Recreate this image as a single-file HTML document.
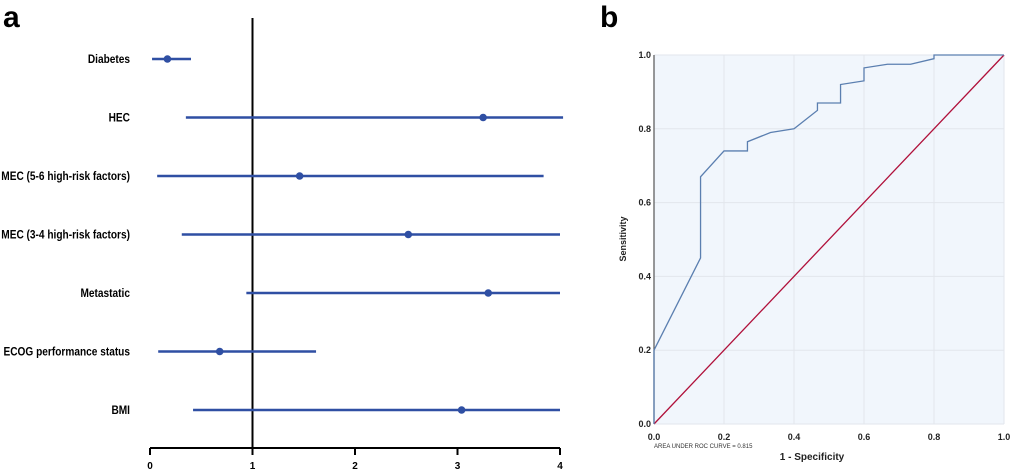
<!DOCTYPE html>
<html><head><meta charset="utf-8"><style>
body{margin:0;background:#fff;font-family:"Liberation Sans",sans-serif}
svg{display:block}
</style></head><body>
<svg id="c" width="1017" height="473">
<text x="3" y="27" font-size="30" font-weight="bold">a</text>
<text x="600" y="27" font-size="30" font-weight="bold">b</text>
<g id="fa"></g>
<g id="roc"></g>
</svg>
<script>
const labels=["Diabetes","HEC","MEC (5-6 high-risk factors)","MEC (3-4 high-risk factors)","Metastatic","ECOG performance status","BMI"];
const est=[0.17,3.25,1.46,2.52,3.30,0.68,3.04];
const lo=[0.02,0.35,0.07,0.31,0.94,0.08,0.42];
const hi=[0.40,4.03,3.84,4.00,4.00,1.62,4.00];
const xTicks=[0,1,2,3,4];
const rocX=[0,0,0.133,0.133,0.2,0.267,0.267,0.333,0.4,0.467,0.467,0.533,0.533,0.6,0.6,0.667,0.733,0.8,0.8,1];
const rocY=[0,0.2,0.45,0.67,0.74,0.74,0.765,0.79,0.8,0.85,0.87,0.87,0.92,0.93,0.965,0.975,0.975,0.99,1,1];
const rocTicks=[0,0.2,0.4,0.6,0.8,1.0];
const NS="http://www.w3.org/2000/svg";
function mk(p,t,a,txt){const e=document.createElementNS(NS,t);for(const k in a)e.setAttribute(k,a[k]);if(txt!==undefined)e.textContent=txt;p.appendChild(e);return e;}
// forest
const fa=document.getElementById('fa');
const fx=v=>150+v*102.5, fy=i=>59+i*58.5;
let e=mk(fa,'line',{x1:fx(1),x2:fx(1),y1:18,y2:448,stroke:'#000','stroke-width':2});

e=mk(fa,'line',{x1:fx(0),x2:fx(4),y1:448,y2:448,stroke:'#000','stroke-width':2});

xTicks.forEach(t=>{
 e=mk(fa,'line',{x1:fx(t),x2:fx(t),y1:448,y2:455,stroke:'#000','stroke-width':2});
 
 e=mk(fa,'text',{x:fx(t),y:469,'text-anchor':'middle','font-size':10,'font-weight':'bold'},t);
 
});
const lg=mk(fa,'g',{transform:'scale(0.88,1)'});

labels.forEach((l,i)=>{
 e=mk(lg,'text',{x:130/0.88,y:fy(i)+4,'text-anchor':'end','font-size':11.5,'font-weight':'bold'},l);
 
});
labels.forEach((l,i)=>{
 e=mk(fa,'line',{x1:fx(lo[i]),x2:fx(hi[i]),y1:fy(i),y2:fy(i),stroke:'#2f4fa3','stroke-width':2.5});
 
 e=mk(fa,'circle',{cx:fx(est[i]),cy:fy(i),r:3.8,fill:'#2f4fa3'});
 
});
// roc
const rg=document.getElementById('roc');
const rx=v=>654+v*350, ry=v=>424-v*369;
e=mk(rg,'rect',{x:rx(0),y:ry(1),width:350,height:369,fill:'#f1f6fc'});

rocTicks.forEach(t=>{
 e=mk(rg,'line',{x1:rx(t),x2:rx(t),y1:ry(0),y2:ry(1),stroke:'#e2e6ec','stroke-width':1});
 
 e=mk(rg,'line',{x1:rx(0),x2:rx(1),y1:ry(t),y2:ry(t),stroke:'#e2e6ec','stroke-width':1});
 
 e=mk(rg,'text',{x:rx(t),y:440,'text-anchor':'middle','font-size':9,'font-weight':'bold',fill:'#222'},t.toFixed(1));
 
 e=mk(rg,'text',{x:rx(0)-3,y:ry(t)+3,'text-anchor':'end','font-size':9,'font-weight':'bold',fill:'#222'},t.toFixed(1));
 
});
e=mk(rg,'line',{x1:rx(0),x2:rx(0),y1:ry(0),y2:ry(1),stroke:'#555','stroke-width':1.2});

e=mk(rg,'line',{x1:rx(0),y1:ry(0),x2:rx(1),y2:ry(1),stroke:'#b0103a','stroke-width':1.3});

e=mk(rg,'polyline',{points:rocX.map((v,i)=>rx(v)+','+ry(rocY[i])).join(' '),fill:'none',stroke:'#5b7fb0','stroke-width':1.3});

e=mk(rg,'text',{x:rx(0),y:448,'font-size':6,fill:'#333'},'AREA UNDER ROC CURVE = 0.815');

e=mk(rg,'text',{x:rx(0.5)-17,y:460,'text-anchor':'middle','font-size':10,'font-weight':'bold',fill:'#222'},'1 - Specificity');

e=mk(rg,'text',{x:626,y:239,'text-anchor':'middle','font-size':9,'font-weight':'bold',fill:'#222',transform:'rotate(-90 626 239)'},'Sensitivity');

</script>
</body></html>
